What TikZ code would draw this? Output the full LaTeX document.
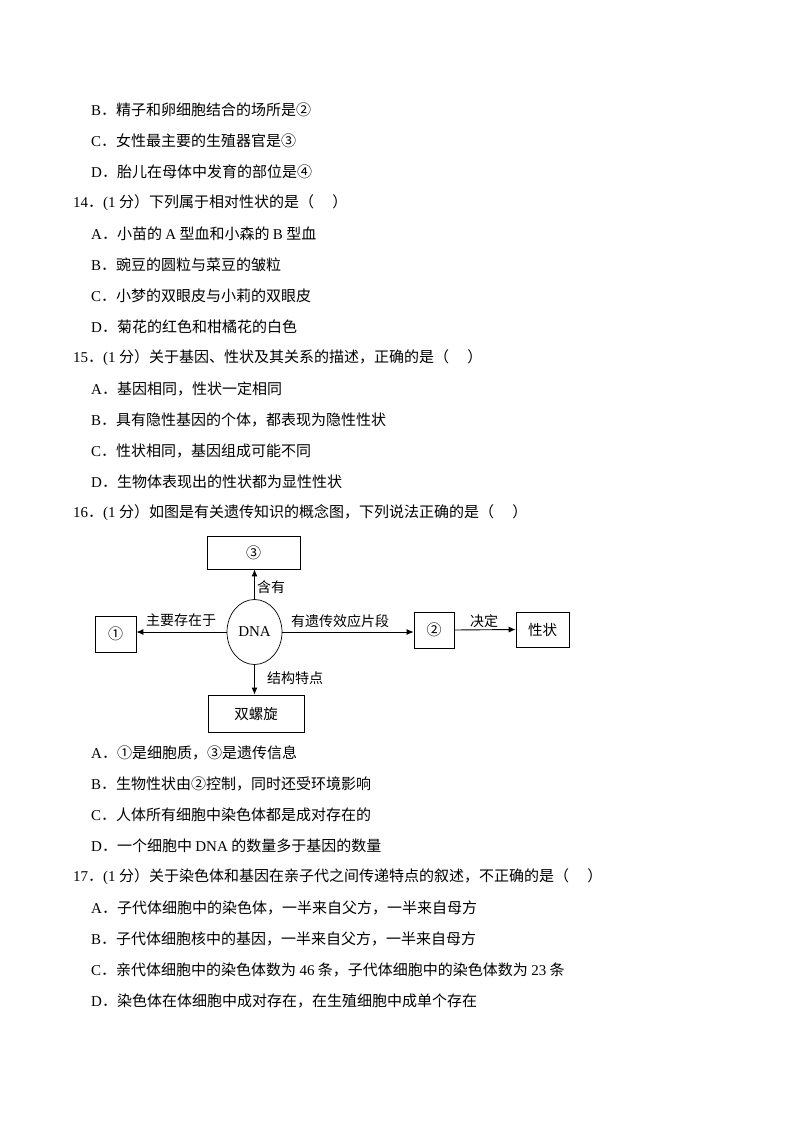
\documentclass[tikz,border=0pt]{standalone}
\usepackage{fontspec}
\usetikzlibrary{shapes.geometric,arrows.meta}
\setmainfont{Liberation Serif}
\newfontfamily\cjk{Noto Sans CJK SC}
\newcommand{\lt}[1]{{\rmfamily #1}}
\newcommand{\opt}[1]{{\rmfamily #1}．}
\begin{document}
\begin{tikzpicture}[x=1pt,y=-1pt,
  line/.style={anchor=west,inner sep=0pt,font=\cjk\fontsize{15}{15}\selectfont},
  box/.style={draw,line width=0.7pt,inner sep=0pt},
  lab/.style={font=\cjk\fontsize{14}{15}\selectfont,inner sep=0pt},
  arr/.style={-{Latex[length=7pt,width=6pt]},line width=0.9pt}]
\useasboundingbox[fill=white] (0,0) rectangle (792,1121);
\node[line] (l1) at (91,110) {\opt{B}精子和卵细胞结合的场所是②};
\node[line] (l2) at (91,141) {\opt{C}女性最主要的生殖器官是③};
\node[line] (l3) at (91,172) {\opt{D}胎儿在母体中发育的部位是④};
\node[line] (l4) at (73,203) {\opt{14}\lt{(1} 分）下列属于相对性状的是（\quad\ ）};
\node[line] (l5) at (91,234) {\opt{A}小苗的 \lt{A} 型血和小森的 \lt{B} 型血};
\node[line] (l6) at (91,265) {\opt{B}豌豆的圆粒与菜豆的皱粒};
\node[line] (l7) at (91,296) {\opt{C}小梦的双眼皮与小莉的双眼皮};
\node[line] (l8) at (91,327) {\opt{D}菊花的红色和柑橘花的白色};
\node[line] (l9) at (73,358) {\opt{15}\lt{(1} 分）关于基因、性状及其关系的描述，正确的是（\quad\ ）};
\node[line] (l10) at (91,389) {\opt{A}基因相同，性状一定相同};
\node[line] (l11) at (91,420) {\opt{B}具有隐性基因的个体，都表现为隐性性状};
\node[line] (l12) at (91,451) {\opt{C}性状相同，基因组成可能不同};
\node[line] (l13) at (91,482) {\opt{D}生物体表现出的性状都为显性性状};
\node[line] (l14) at (73,513) {\opt{16}\lt{(1} 分）如图是有关遗传知识的概念图，下列说法正确的是（\quad\ ）};
\node[line] (l15) at (91,753) {\opt{A}①是细胞质，③是遗传信息};
\node[line] (l16) at (91,784) {\opt{B}生物性状由②控制，同时还受环境影响};
\node[line] (l17) at (91,815) {\opt{C}人体所有细胞中染色体都是成对存在的};
\node[line] (l18) at (91,846) {\opt{D}一个细胞中 \lt{DNA} 的数量多于基因的数量};
\node[line] (l19) at (73,877) {\opt{17}\lt{(1} 分）关于染色体和基因在亲子代之间传递特点的叙述，不正确的是（\quad\ ）};
\node[line] (l20) at (91,908) {\opt{A}子代体细胞中的染色体，一半来自父方，一半来自母方};
\node[line] (l21) at (91,939) {\opt{B}子代体细胞核中的基因，一半来自父方，一半来自母方};
\node[line] (l22) at (91,970) {\opt{C}亲代体细胞中的染色体数为 \lt{46} 条，子代体细胞中的染色体数为 \lt{23} 条};
\node[line] (l23) at (91,1001) {\opt{D}染色体在体细胞中成对存在，在生殖细胞中成单个存在};
% diagram
\node[box,minimum width=93pt,minimum height=33pt,font=\cjk\fontsize{15}{15}\selectfont] (c3) at (253.5,552.5) {③};
\node[box,minimum width=41pt,minimum height=36pt,font=\cjk\fontsize{15}{15}\selectfont] (c1) at (115.5,634) {①};
\node[box,ellipse,minimum width=55pt,minimum height=65pt,font=\fontsize{15}{15}\selectfont] (dna) at (254.5,632) {DNA};
\node[box,minimum width=40pt,minimum height=36pt,font=\cjk\fontsize{15}{15}\selectfont] (c2) at (434,630) {②};
\node[box,minimum width=53pt,minimum height=35pt,font=\cjk\fontsize{14.5}{15}\selectfont] (xz) at (542.5,629.5) {性状};
\node[box,minimum width=96pt,minimum height=37pt,font=\cjk\fontsize{14.5}{15}\selectfont] (sl) at (256,713.5) {双螺旋};
\draw[arr] (dna.north) -- (dna.north |- c3.south);
\draw[arr] (dna.west) -- (c1.east |- dna.west);
\draw[arr] (dna.east) -- (c2.west |- dna.east);
\draw[arr] (c2.east) -- (xz.west);
\draw[arr] (dna.south) -- (dna.south |- sl.north);
\node[lab] (t1) at (271,587) {含有};
\node[lab] (t2) at (181,620) {主要存在于};
\node[lab] (t3) at (340,621) {有遗传效应片段};
\node[lab] (t4) at (484,621) {决定};
\node[lab] (t5) at (295,678) {结构特点};
\end{tikzpicture}
\end{document}
